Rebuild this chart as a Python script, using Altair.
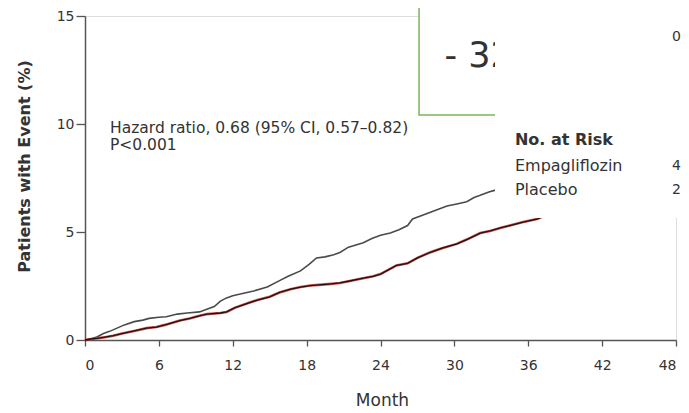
import altair as alt
import pandas as pd

# ---- data ----
placebo_month = [0, 0.5, 1, 1.5, 2, 2.6, 3.2, 4, 4.7, 5.2, 6, 6.6, 7.5, 8.3, 9.3, 10, 10.5, 11, 11.5, 12,
                 12.8, 13.7, 14.8, 15.8, 16.5, 17.5, 18.2, 18.8, 19.5, 20.2, 20.7, 21.4, 22.0, 22.6, 23.3,
                 24, 24.8, 25.5, 26.2, 26.6, 27.3, 28, 28.7, 29.4, 30.2, 31, 31.6, 32.1, 32.8, 33.4, 34.5, 36]
placebo_pct = [0, 0.05, 0.15, 0.3, 0.4, 0.55, 0.7, 0.85, 0.92, 1.0, 1.05, 1.08, 1.2, 1.25, 1.3, 1.45, 1.55,
               1.8, 1.95, 2.05, 2.15, 2.27, 2.45, 2.75, 2.95, 3.2, 3.5, 3.8, 3.85, 3.95, 4.05, 4.3, 4.4, 4.5,
               4.7, 4.85, 4.95, 5.1, 5.3, 5.6, 5.75, 5.9, 6.05, 6.2, 6.3, 6.4, 6.6, 6.7, 6.85, 6.95, 7.2, 7.5]

empa_month = [0, 0.5, 1, 1.5, 2.3, 3, 4, 5, 5.8, 6.5, 7.7, 8.5, 9.3, 9.9, 11, 11.5, 12.2, 13.2, 14, 15,
              15.8, 16.7, 17.5, 18.3, 19, 20, 20.7, 21.4, 22.6, 23.4, 24, 25.3, 26.2, 27, 28, 29, 30.2, 31,
              32.1, 32.9, 33.8, 34.5, 35.5, 36.7, 38]
empa_pct = [0, 0.05, 0.08, 0.12, 0.2, 0.3, 0.42, 0.55, 0.6, 0.7, 0.9, 1.0, 1.12, 1.2, 1.25, 1.3, 1.5, 1.7,
            1.85, 2.0, 2.2, 2.35, 2.45, 2.52, 2.55, 2.6, 2.64, 2.72, 2.86, 2.95, 3.05, 3.45, 3.55, 3.8, 4.05,
            4.25, 4.45, 4.65, 4.95, 5.05, 5.2, 5.3, 5.45, 5.6, 5.9]

x_ticks = [0, 6, 12, 18, 24, 30, 36, 42, 48]
y_ticks = [0, 5, 10, 15]

hr_lines = ["Hazard ratio, 0.68 (95% CI, 0.57\u20130.82)", "P<0.001"]
risk_head = ["No. at Risk"]
risk_groups = ["Empagliflozin", "Placebo"]
risk_first = ["4", "2"]
box_text = "- 32%"

# ---- tables ----
df_p = pd.DataFrame({"month": placebo_month, "pct": placebo_pct})
df_e = pd.DataFrame({"month": empa_month, "pct": empa_pct})

FONT = "DejaVu Sans"
TXT = "#333333"

xs = alt.Scale(domain=[0, 48], nice=False)
ys = alt.Scale(domain=[0, 15], nice=False)

x_enc = alt.X("month:Q", scale=xs, axis=alt.Axis(
    values=x_ticks, title="Month", grid=False, domainColor="#555", tickColor="#555",
    domainWidth=1.5, tickWidth=1.3, tickSize=6, labelPadding=12, labelFont=FONT, labelFontSize=14,
    labelColor=TXT, titleFont=FONT, titleFontSize=17, titleFontWeight="normal", titleColor=TXT,
    titleBaseline="middle", titleY=60, titleX=297))
y_enc = alt.Y("pct:Q", scale=ys, axis=alt.Axis(
    values=y_ticks, title="Patients with Event (%)", grid=False, domainColor="#555", tickColor="#555",
    domainWidth=1.5, tickWidth=1.3, tickSize=9, labelPadding=2, labelFont=FONT, labelFontSize=14,
    labelColor=TXT, titleFont=FONT, titleFontSize=16, titleFontWeight="bold", titleColor=TXT,
    titleX=-53, titleY=150, titleAngle=-90))

placebo = alt.Chart(df_p).mark_line(color="#4a4a4a", strokeWidth=1.6).encode(x=x_enc, y=y_enc)
empa_red = alt.Chart(df_e).mark_line(color="#b5302a", strokeWidth=2.6, opacity=0.8).encode(x="month:Q", y="pct:Q")
empa_dark = alt.Chart(df_e).mark_line(color="#2a0c0c", strokeWidth=1.3).encode(x="month:Q", y="pct:Q")

green = alt.Chart(pd.DataFrame({"x": [27.13], "x2": [44], "y": [10.42], "y2": [16]})).mark_rect(
    fill="white", stroke="#7ab55c", strokeWidth=1.5).encode(x="x:Q", x2="x2:Q", y="y:Q", y2="y2:Q")
green_txt = alt.Chart(pd.DataFrame({"x": [29.2], "y": [13.15], "t": [box_text]})).mark_text(
    align="left", baseline="middle", font=FONT, fontSize=35, color=TXT).encode(x="x:Q", y="y:Q", text="t:N")
white = alt.Chart(pd.DataFrame({"x": [33.3], "x2": [52], "y": [5.65], "y2": [16]})).mark_rect(
    fill="white").encode(x="x:Q", x2="x2:Q", y="y:Q", y2="y2:Q")

risk_h = alt.Chart(pd.DataFrame({"x": [34.92], "y": [9.26], "t": risk_head})).mark_text(
    align="left", baseline="middle", font=FONT, fontSize=16, fontWeight="bold", color=TXT).encode(
    x="x:Q", y="y:Q", text="t:N")
risk = alt.Chart(pd.DataFrame({"x": [34.92] * 2, "y": [8.06, 6.94], "t": risk_groups})).mark_text(
    align="left", baseline="middle", font=FONT, fontSize=16, color=TXT).encode(
    x="x:Q", y="y:Q", text="t:N")
risk_n = alt.Chart(pd.DataFrame({"x": [47.68, 47.68, 47.68], "y": [8.06, 6.94, 14.03],
                                 "t": risk_first + ["0"]})).mark_text(
    align="left", baseline="middle", font=FONT, fontSize=14, color=TXT).encode(x="x:Q", y="y:Q", text="t:N")

hr = alt.Chart(pd.DataFrame({"x": [2.03, 2.03], "y": [9.81, 9.03], "t": hr_lines})).mark_text(
    align="left", baseline="middle", font=FONT, fontSize=15.5, color=TXT).encode(x="x:Q", y="y:Q", text="t:N")

chart = alt.layer(placebo, empa_red, empa_dark, green, green_txt, white, risk_h, risk, risk_n, hr).properties(
    width=591, height=324,
    autosize=alt.AutoSizeParams(type="none"),
    padding={"left": 77, "top": 8, "right": 5, "bottom": 73},
).configure_view(stroke=None).configure(background="white")

chart.save("out.html", embed_options={"renderer": "svg", "actions": False})
